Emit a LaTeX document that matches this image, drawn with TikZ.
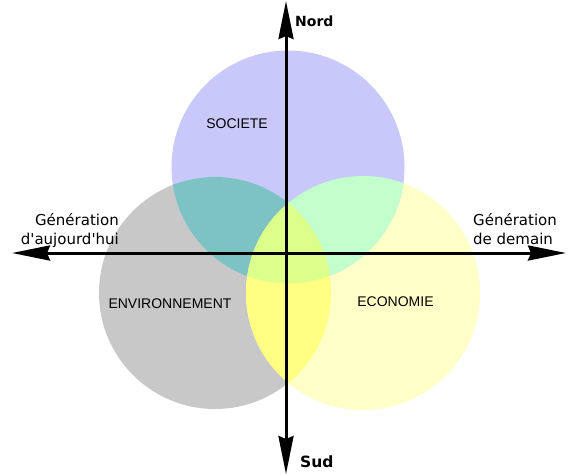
\documentclass[tikz,border=0pt]{standalone}
\usepackage{fontspec}
\setmainfont{DejaVu Sans}[Ligatures=TeXOff]
\newfontfamily\labfont{Liberation Sans}
\usetikzlibrary{arrows.meta}
\definecolor{cblue}{RGB}{200,200,250}
\definecolor{cgrey}{RGB}{200,200,200}
\definecolor{cyellow}{RGB}{255,255,200}
\definecolor{cteal}{RGB}{125,195,195}
\definecolor{cmint}{RGB}{195,255,205}
\definecolor{cgy}{RGB}{255,255,130}
\definecolor{ctriple}{RGB}{220,255,140}
\begin{document}
\begin{tikzpicture}[x=1pt,y=-1pt,
  axis/.style={line width=3pt,
    {Stealth[length=38pt,width=15pt,inset=3pt]}-{Stealth[length=38pt,width=15pt,inset=3pt]}},
  circlab/.style={inner sep=0pt,font=\labfont\fontsize{14}{16}\selectfont},
  sidelab/.style={inner sep=0pt,font=\fontsize{15}{19}\selectfont},
  polelab/.style={inner sep=0pt,font=\bfseries\fontsize{14}{16}\selectfont}]
\useasboundingbox (0,0) rectangle (568,475);
\fill[white] (0,0) rectangle (568,475);
% circle centres
\coordinate (cS) at (288,167);
\coordinate (cV) at (215,293);
\coordinate (cE) at (363,293);
% base fills
\fill[cgrey] (cV) circle[radius=116pt];
\fill[cyellow] (cE) circle[radius=117pt];
\fill[cblue] (cS) circle[radius=116.5pt];
% pairwise overlaps
\begin{scope}
  \clip (cS) circle[radius=116.5pt];
  \fill[cteal] (cV) circle[radius=116pt];
  \fill[cmint] (cE) circle[radius=117pt];
\end{scope}
\begin{scope}
  \clip (cV) circle[radius=116pt];
  \fill[cgy] (cE) circle[radius=117pt];
  \clip (cE) circle[radius=117pt];
  \fill[ctriple] (cS) circle[radius=116.5pt];
\end{scope}
% axes
\coordinate (N) at (286,1);
\coordinate (S) at (286,474);
\coordinate (W) at (12,253);
\coordinate (E) at (566,253);
\draw[axis] (S) -- (N);
\draw[axis] (W) -- (E);
% labels
\node[circlab] (soc) at (237,124) {SOCIETE};
\node[circlab] (env) at (170,304) {ENVIRONNEMENT};
\node[circlab] (eco) at (395.5,302) {ECONOMIE};
\node[polelab,anchor=base west] (nord) at (295,26) {Nord};
\node[polelab,anchor=base west,font=\bfseries\fontsize{15.5}{18}\selectfont] (sud) at (300,467) {Sud};
\node[sidelab,anchor=base east] (gl1) at (119,225) {Génération};
\node[sidelab,anchor=base east] (gl2) at (119,244) {d'aujourd'hui};
\node[sidelab,anchor=base west] (gr1) at (473,225) {Génération};
\node[sidelab,anchor=base west] (gr2) at (473,244) {de demain};
\end{tikzpicture}
\end{document}
